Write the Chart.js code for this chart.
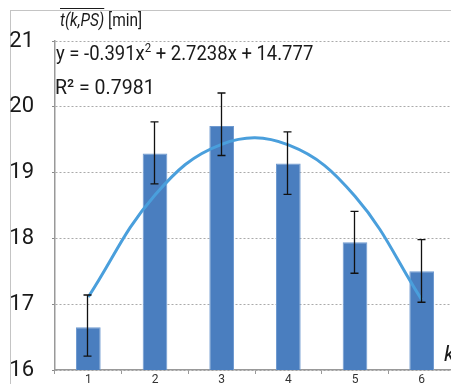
<!DOCTYPE html>
<html>
<head>
<meta charset="utf-8">
<script src="https://cdn.jsdelivr.net/npm/chart.js@4/dist/chart.umd.min.js"></script>
<style>
  html, body { margin:0; padding:0; background:#fff; }
  body { width:451px; height:384px; overflow:hidden; position:relative;
         font-family:"Liberation Sans Narrow","Roboto",sans-serif; }
  #frame { position:absolute; left:10px; top:10px; width:460px; height:400px;
           border-top:1.5px solid #c4c4c4; border-left:1.5px solid #c4c4c4; }
  #wrap { position:absolute; left:0; top:0; width:460px; height:384px; }
  .txt { position:absolute; color:#1a1a1a; white-space:nowrap; transform-origin:0 0; }
  #title { left:60px; top:9px; font-size:18px; transform:scaleX(0.86); }
  #title .ov { font-style:italic; text-decoration:overline; }
  #eq { left:56px; top:41px; font-size:21px; transform:scaleX(0.88); }
  #eq sup { font-size:13px; vertical-align:top; position:relative; top:-1px; }
  #r2 { left:55px; top:75px; font-size:21px; transform:scaleX(0.93); }
  #k { left:444px; top:341px; font-size:22px; font-style:italic; }
</style>
</head>
<body>
<div id="frame"></div>
<div id="wrap"><canvas id="c" width="460" height="384"></canvas></div>
<div class="txt" id="title"><span class="ov">t(k,PS)</span> [min]</div>
<div class="txt" id="eq">y = -0.391x<sup>2</sup> + 2.7238x + 14.777</div>
<div class="txt" id="r2">R² = 0.7981</div>
<div class="txt" id="k">k</div>
<script>
const categories = ['1','2','3','4','5','6'];
const means      = [16.65, 19.29, 19.71, 19.14, 17.94, 17.50];
const errUpper   = [17.14, 19.77, 20.21, 19.62, 18.41, 17.98];
const errLower   = [16.21, 18.83, 19.26, 18.67, 17.47, 17.03];
const trend      = [17.11, 18.66, 19.43, 19.42, 18.64, 17.07];
const yTicks     = [16, 17, 18, 19, 20, 21];

const errorBars = {
  id: 'errorBars',
  afterDatasetsDraw(chart) {
    const meta = chart.getDatasetMeta(1);
    const y = chart.scales.y;
    const ctx = chart.ctx;
    ctx.save();
    ctx.strokeStyle = '#111';
    ctx.lineWidth = 1.3;
    meta.data.forEach((bar, i) => {
      const x = Math.round(bar.x) - 0.5;
      const yt = y.getPixelForValue(errUpper[i]);
      const yb = y.getPixelForValue(errLower[i]);
      ctx.beginPath();
      ctx.moveTo(x, yt); ctx.lineTo(x, yb);
      ctx.moveTo(x - 4, yt); ctx.lineTo(x + 4, yt);
      ctx.moveTo(x - 4, yb); ctx.lineTo(x + 4, yb);
      ctx.stroke();
    });
    ctx.restore();
  }
};

new Chart(document.getElementById('c'), {
  data: {
    labels: categories,
    datasets: [
      { type:'line', data: trend, borderColor:'#4a9fdc', borderWidth:3,
        pointRadius:0, tension:0.4, order:0, fill:false },
      { type:'bar', data: means, backgroundColor:'#4a7ebf', borderColor:'#6f9ad0',
        borderWidth:1, barPercentage:0.37, categoryPercentage:1, order:1 }
    ]
  },
  options: {
    responsive:false, animation:false,
    layout: { padding: { left:0, right:5, top:41, bottom:0 } },
    plugins: { legend:{display:false}, tooltip:{enabled:false} },
    scales: {
      x: {
        type:'category',
        offset:true,
        grid: { offset:true, drawOnChartArea:false, drawTicks:true, tickLength:4, color:'#999' },
        border: { display:true, color:'#999', width:1.5 },
        ticks: { color:'#333', font:{ size:12, family:'"Liberation Sans Narrow", Roboto, sans-serif' }, padding:-1, maxRotation:0 },
        afterFit(s) { s.height = 14; s.paddingLeft = 0; s.paddingRight = 0; }
      },
      y: {
        min:16, max:21,
        afterBuildTicks(s) { s.ticks = yTicks.map(v => ({ value:v })); },
        grid: { color:'#aaa', lineWidth:1, drawTicks:true, tickLength:3, tickColor:'#888', tickBorderDash:[] },
        border: { display:true, color:'#999', width:1.5, dash:[2,2] },
        ticks: { color:'#1a1a1a', font:{ size:22, family:'"Liberation Sans Narrow", Roboto, sans-serif' }, padding:18 },
        afterFit(s) { s.width = 55; s.paddingTop = 0; s.paddingBottom = 0; }
      }
    }
  },
  plugins: [errorBars]
});
</script>
</body>
</html>
